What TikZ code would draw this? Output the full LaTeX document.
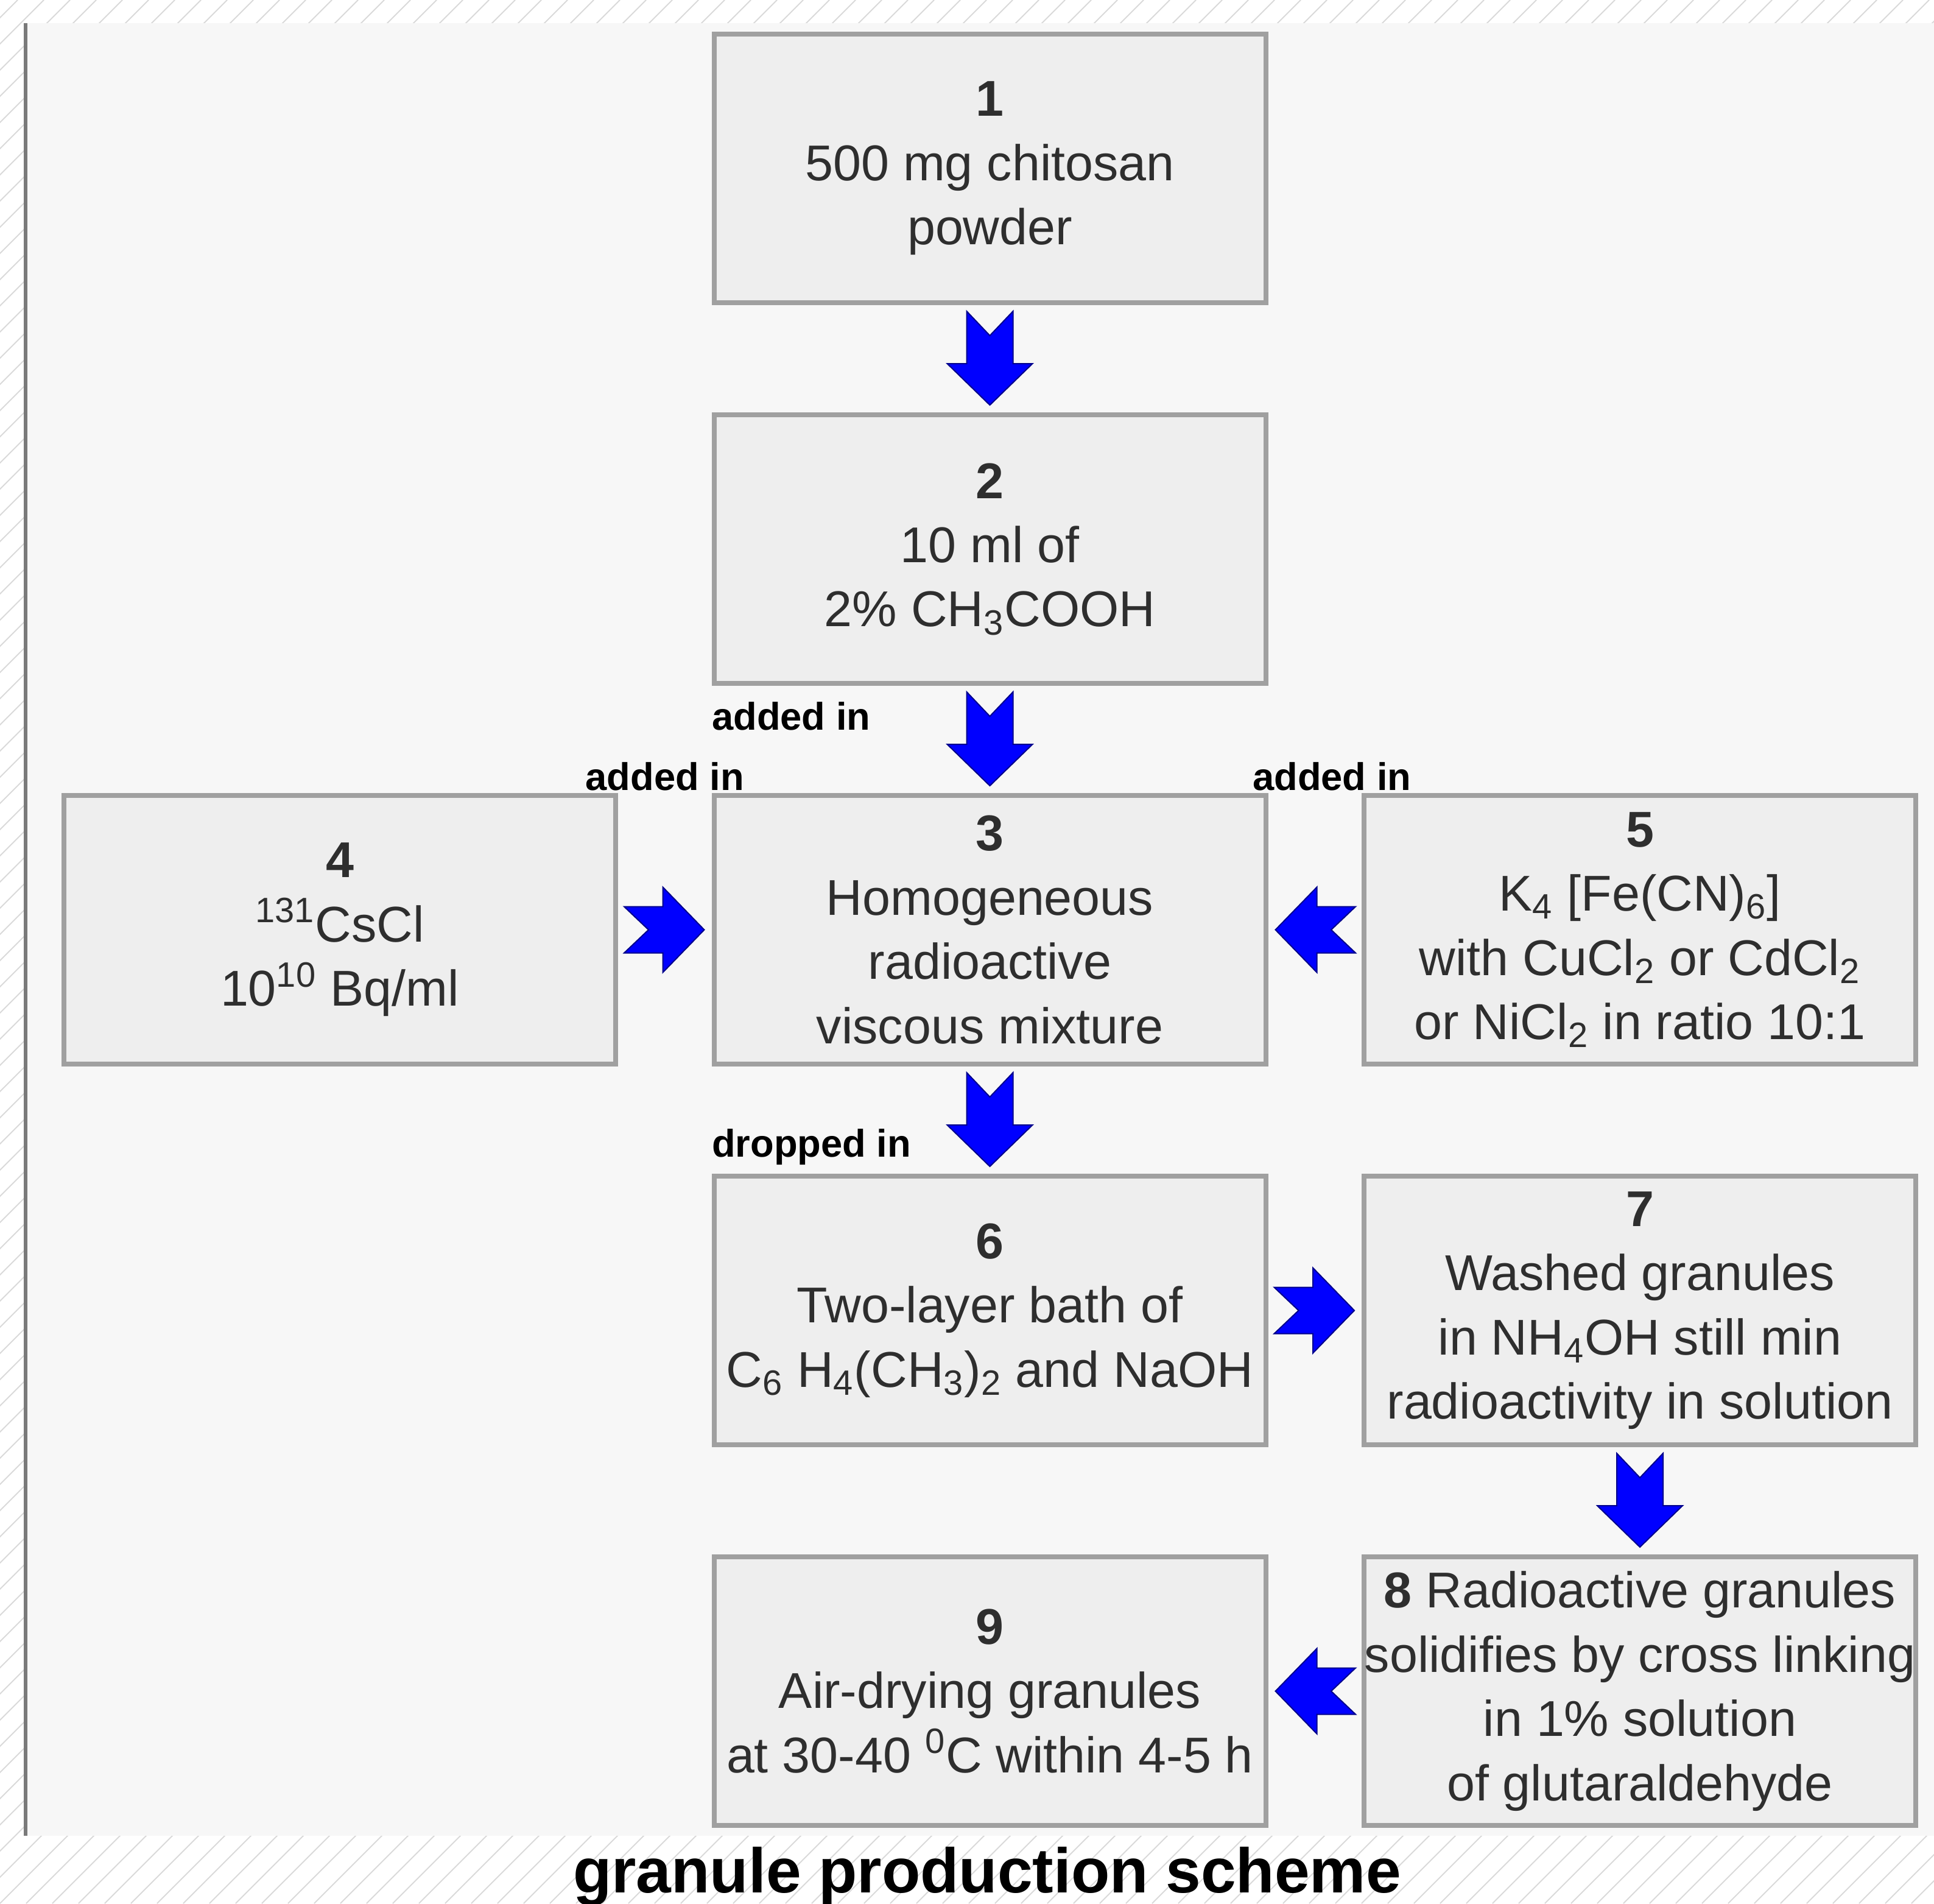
\documentclass[tikz,border=0pt]{standalone}
\usepackage{fontspec}
\setmainfont{Liberation Sans}
\usetikzlibrary{positioning, calc}

\definecolor{panelgray}{HTML}{F7F7F7}
\definecolor{boxgray}{HTML}{EEEEEE}
\definecolor{edgegray}{HTML}{A0A0A0}
\definecolor{bargray}{HTML}{7A7A7A}
\definecolor{hatchgray}{HTML}{DADADA}
\definecolor{txtgray}{HTML}{2E2E2E}
\definecolor{flowblue}{HTML}{0000FF}

\begin{document}
\begin{tikzpicture}[
	node distance = 6.25cm and 10.675cm,
	on grid,
	stagebox/.style = {draw=edgegray, line width=0.08cm, fill=boxgray,
		minimum width=9.06cm, minimum height=4.41cm, inner sep=0pt,
		align=center, text=txtgray, font=\fontsize{23.5}{30}\selectfont},
	lbl/.style = {inner sep=0pt, font=\fontsize{18}{20}\selectfont\bfseries},
	fat/.style = {fill=flowblue, draw=flowblue!55!black, line width=0.02cm,
		to path={($(\tikztostart)!0.10cm!(\tikztotarget)!0.38cm!90:(\tikztotarget)$)
			-- ($(\tikztostart)!0.50cm!(\tikztotarget)$)
			-- ($(\tikztostart)!0.10cm!(\tikztotarget)!0.38cm!-90:(\tikztotarget)$)
			-- ($(\tikztotarget)!0.80cm!(\tikztostart)!0.38cm!90:(\tikztostart)$)
			-- ($(\tikztotarget)!0.80cm!(\tikztostart)!0.70cm!90:(\tikztostart)$)
			-- ($(\tikztotarget)!0.12cm!(\tikztostart)$)
			-- ($(\tikztotarget)!0.80cm!(\tikztostart)!0.70cm!-90:(\tikztostart)$)
			-- ($(\tikztotarget)!0.80cm!(\tikztostart)!0.38cm!-90:(\tikztostart)$)
			-- cycle}}
	]
	\useasboundingbox (0,0) rectangle (31.76,-31.25);
	\clip (0,0) rectangle (31.76,-31.25);
	% hatched page behind the panel
	\foreach \k in {-74,...,75}
		\draw[hatchgray, line width=0.02cm] (\k*0.43,-31.25) -- ++(31.25,31.25);
	\fill[panelgray] (0.39,-0.38) rectangle (31.76,-30.14);
	\fill[bargray] (0.39,-0.38) rectangle (0.45,-30.14);

	% stages
	\node[stagebox] (b1) at (16.255,-2.765) {\textbf{1}\\500 mg chitosan\\powder};
	\node[stagebox] (b2) [below=of b1] {\textbf{2}\\10 ml of\\2\% CH\textsubscript{3}COOH};
	\node[stagebox] (b3) [below=of b2] {\textbf{3}\\Homogeneous\\radioactive\\viscous mixture};
	\node[stagebox] (b4) [left=of b3] {\textbf{4}\\\textsuperscript{131}CsCl\\10\textsuperscript{10} Bq/ml};
	\node[stagebox] (b5) [right=of b3] {\textbf{5}\\K\textsubscript{4} [Fe(CN)\textsubscript{6}]\\with CuCl\textsubscript{2} or CdCl\textsubscript{2}\\or NiCl\textsubscript{2} in ratio 10:1};
	\node[stagebox] (b6) [below=of b3] {\textbf{6}\\Two-layer bath of\\C\textsubscript{6} H\textsubscript{4}(CH\textsubscript{3})\textsubscript{2} and NaOH};
	\node[stagebox] (b7) [right=of b6] {\textbf{7}\\Washed granules\\in NH\textsubscript{4}OH still min\\radioactivity in solution};
	\node[stagebox] (b8) [below=of b7] {\textbf{8} Radioactive granules\\solidifies by cross linking\\in 1\% solution\\of glutaraldehyde};
	\node[stagebox] (b9) [below=of b6] {\textbf{9}\\Air-drying granules\\at 30-40 \textsuperscript{0}C within 4-5 h};

	% flow arrows
	\path
	(b1.south) edge[fat] (b2.north)
	(b2.south) edge[fat] (b3.north)
	(b4.east)  edge[fat] (b3.west)
	(b5.west)  edge[fat] (b3.east)
	(b3.south) edge[fat] (b6.north)
	(b6.east)  edge[fat] (b7.west)
	(b7.south) edge[fat] (b8.north)
	(b8.west)  edge[fat] (b9.east);

	% arrow labels
	\node[lbl, anchor=base west] (addtop) at ([yshift=1.04cm]b3.north west) {added in};
	\node[lbl, anchor=base east] (addleft) at ([xshift=0.54cm,yshift=0.05cm]b3.north west) {added in};
	\node[lbl, anchor=base west] (addright) at ([xshift=-0.26cm,yshift=0.05cm]b3.north east) {added in};
	\node[lbl, anchor=base west] (drop) at ([yshift=0.28cm]b6.north west) {dropped in};

	\node[inner sep=0pt, anchor=base, font=\fontsize{29.5}{32}\selectfont\bfseries] (title) at (16.21,-31.07) {granule production scheme};
\end{tikzpicture}
\end{document}
